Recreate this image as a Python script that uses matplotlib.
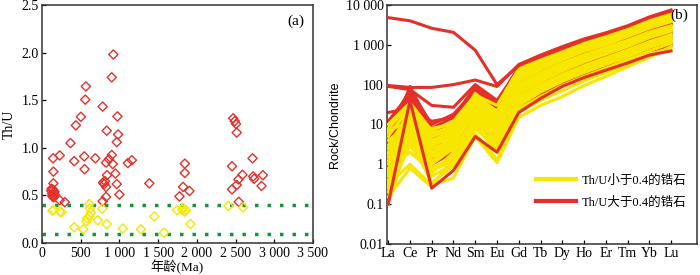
import matplotlib.pyplot as plt
import numpy as np

plt.rcParams["font.family"] = ["Liberation Serif", "Noto Sans CJK SC"]
plt.rcParams["font.size"] = 10

# ---------- (a) Th/U vs age ----------
red_age = [922, 901, 567, 559, 784, 974, 502, 437, 836, 2470, 2490, 2507, 2516,
           983, 966, 368, 143, 229, 546, 689, 416, 550, 901, 866, 827, 914, 948,
           840, 966, 1000, 1109, 1161, 1386, 788, 805, 827, 815, 827, 784, 147, 147,
           120, 130, 140, 150, 160, 125, 135, 155, 145, 165, 229, 294,
           1845, 1845, 1823, 1905, 1776, 2455, 2455, 2516, 2538, 2590, 2542,
           2720, 2728, 2741, 2854, 2836]
red_thu = [1.98, 1.74, 1.645, 1.506, 1.433, 1.33, 1.326, 1.236, 1.18, 1.31, 1.28, 1.25, 1.16,
           1.14, 1.06, 1.05, 0.89, 0.92, 0.91, 0.89, 0.86, 0.776, 0.925, 0.88, 0.845, 0.83, 0.73,
           0.713, 0.62, 0.51, 0.84, 0.87, 0.627, 0.634, 0.62, 0.59, 0.65, 0.485, 0.44, 0.75, 0.627,
           0.55, 0.52, 0.50, 0.48, 0.54, 0.57, 0.49, 0.53, 0.56, 0.51, 0.45, 0.43,
           0.834, 0.737, 0.59, 0.547, 0.49, 0.807, 0.564, 0.61, 0.668, 0.717, 0.433,
           0.89, 0.70, 0.675, 0.713, 0.60]

yel_age = [134, 150, 230, 251, 610, 619, 632, 610, 584, 576, 779, 719, 416, 533,
           836, 1044, 1278, 1451, 1576, 1745, 1810, 1840, 1862, 1823, 1918, 2408, 2598]
yel_thu = [0.34, 0.35, 0.33, 0.325, 0.41, 0.364, 0.32, 0.284, 0.26, 0.23, 0.36, 0.24, 0.166, 0.145,
           0.2, 0.152, 0.145, 0.28, 0.11, 0.346, 0.35, 0.33, 0.345, 0.37, 0.2, 0.39, 0.374]

thu_limits = [0.4, 0.1]

# ---------- (b) chondrite-normalised REE ----------
ree = ["La", "Ce", "Pr", "Nd", "Sm", "Eu", "Gd", "Tb", "Dy", "Ho", "Er", "Tm", "Yb", "Lu"]

red_ree = [
    [4800, 4000, 2600, 2050, 730, 100, 300, 500, 800, 1300, 1900, 2900, 4800, 7000],
    [95, 85, 85, 100, 130, 90, 320, 550, 900, 1400, 2000, 3000, 5000, 7500],
    [90, 75, 30, 27, 100, 40, 250, 450, 750, 1200, 1700, 2600, 4200, 6000],
    [20, 25, 12, 15, 60, 20, 150, 280, 500, 800, 1200, 1900, 3200, 4500],
    [12, 60, 6, 10, 50, 15, 120, 230, 400, 650, 1000, 1500, 2500, 3500],
    [2.7, 80, 4, 12, 80, 30, 200, 380, 650, 1000, 1500, 2300, 3800, 5200],
    [1.2, 50, 2, 5, 30, 10, 50, 100, 180, 300, 480, 750, 1200, 1700],
    [0.4, 30, 1.0, 2, 8, 5, 30, 60, 110, 190, 300, 480, 800, 1100],
    [0.1, 40, 0.25, 0.7, 5, 2, 20, 45, 90, 150, 230, 350, 550, 700],
    [0.8, 70, 3, 7, 60, 25, 170, 320, 560, 900, 1300, 2000, 3300, 4500],
    [5, 45, 5, 9, 40, 12, 80, 150, 260, 420, 650, 1000, 1600, 2300],
    [0.6, 35, 1.5, 3, 20, 8, 60, 120, 220, 360, 560, 850, 1400, 2000],
    [3, 90, 8, 15, 90, 35, 280, 500, 820, 1250, 1800, 2700, 4500, 6500],
    [1.5, 65, 2.5, 6, 40, 12, 40, 80, 150, 260, 420, 670, 1100, 1500],
    [0.5, 55, 1.2, 4, 25, 9, 25, 50, 100, 170, 270, 430, 700, 950],
    [8, 75, 10, 18, 70, 25, 110, 210, 380, 620, 950, 1450, 2400, 3400],
]

yel_ree = [
    [7, 12, 8, 10, 40, 15, 200, 380, 650, 1000, 1500, 2300, 3800, 5500],
    [8, 30, 5, 8, 60, 20, 230, 420, 700, 1100, 1600, 2500, 4000, 6000],
    [1.5, 25, 4, 6, 30, 10, 150, 290, 500, 800, 1200, 1800, 3000, 4300],
    [0.5, 10, 1.2, 3, 20, 8, 100, 200, 350, 560, 850, 1300, 2100, 3000],
    [0.3, 1.0, 0.3, 0.45, 5, 1.1, 15, 30, 50, 95, 160, 280, 480, 900],
    [0.15, 0.8, 0.27, 1.5, 10, 3, 25, 50, 95, 160, 260, 420, 700, 1100],
    [0.1, 5, 0.6, 2, 15, 4, 40, 80, 140, 240, 380, 600, 1000, 1500],
    [3, 20, 3, 5, 25, 7, 60, 120, 220, 370, 580, 900, 1500, 2200],
    [1, 15, 2, 4, 35, 12, 120, 240, 420, 680, 1000, 1600, 2600, 3800],
    [0.7, 8, 1, 2.5, 12, 5, 80, 160, 280, 460, 700, 1100, 1800, 2600],
    [10, 35, 7, 12, 55, 30, 250, 450, 760, 1200, 1750, 2700, 4300, 6000],
    [0.2, 3, 0.5, 1, 8, 2.5, 30, 65, 120, 200, 320, 500, 850, 1300],
    [2, 18, 2.5, 4, 18, 6, 180, 340, 580, 900, 1350, 2000, 3300, 4800],
    [0.4, 6, 0.8, 1.5, 12, 4, 130, 260, 450, 720, 1100, 1700, 2800, 4000],
    [5, 28, 6, 9, 45, 18, 45, 90, 160, 270, 430, 680, 1100, 1600],
    [0.25, 12, 1.8, 3.5, 25, 9, 200, 370, 630, 980, 1450, 2200, 3600, 5000],
    [1.2, 28, 3, 5, 40, 10, 170, 330, 560, 880, 1300, 2000, 3200, 4600],
    [6, 22, 4, 7, 35, 14, 90, 180, 320, 520, 800, 1250, 2000, 2900],
    [0.35, 4, 0.35, 0.9, 6, 1.3, 20, 40, 70, 125, 200, 330, 560, 850],
    [2.5, 15, 1.5, 3, 28, 8, 70, 140, 250, 410, 640, 1000, 1650, 2400],
    [0.6, 20, 2, 5, 45, 16, 220, 400, 680, 1050, 1550, 2400, 3900, 5400],
    [4, 10, 3.5, 6, 22, 3.5, 50, 100, 180, 300, 470, 740, 1200, 1800],
    [1.8, 26, 5, 8, 50, 22, 140, 270, 470, 750, 1130, 1750, 2800, 4100],
    [0.8, 2, 0.7, 1.2, 9, 2, 35, 70, 130, 220, 350, 550, 900, 1400],
]

RED = "#e3302a"
YEL = "#f7e600"
GREEN = "#13963b"

fig = plt.figure(figsize=(7, 2.75), dpi=100)
ax1 = fig.add_axes([0.06, 0.116, 0.387, 0.866])
ax2 = fig.add_axes([0.553, 0.113, 0.443, 0.869])

for ax in (ax1, ax2):
    for s in ax.spines.values():
        s.set_linewidth(1.1)
        s.set_color("#333333")
    ax.tick_params(direction="in", length=3, width=0.9, labelsize=10, pad=2.5)

# (a)
ax1.scatter(red_age, red_thu, marker="D", s=22, facecolors="none", edgecolors=RED, linewidths=1.0, zorder=3)
ax1.scatter(yel_age, yel_thu, marker="D", s=22, facecolors="none", edgecolors=YEL, linewidths=1.0, zorder=3)
for v in thu_limits:
    ax1.axhline(v, color=GREEN, lw=2.5, ls=(0, (1, 2.6)), zorder=2)
ax1.set_xlim(0, 3500)
ax1.set_ylim(0, 2.5)
ax1.set_xticks(np.arange(0, 3501, 500))
ax1.set_xticklabels(["0", "500", "1 000", "1 500", "2 000", "2 500", "3 000", "3 500"])
ax1.set_yticks(np.arange(0, 2.51, 0.5))
ax1.set_yticklabels(["0.0", "0.5", "1.0", "1.5", "2.0", "2.5"])
ax1.set_xlabel("年龄(Ma)", labelpad=0, fontsize=9.5)
ax1.set_ylabel("Th/U", labelpad=4)
ax1.text(0.97, 0.93, "(a)", transform=ax1.transAxes, ha="right", va="center", fontsize=11)

# (b)
x = np.arange(len(ree))
for i, row in enumerate(red_ree):
    ax2.plot(x, row, color=RED, lw=2.2, zorder=2 if i not in (0, 1, 8) else 4)
for row in yel_ree:
    ax2.plot(x, row, color=YEL, lw=2.2, zorder=3)
ax2.set_yscale("log")
ax2.set_ylim(0.01, 10000)
ax2.set_xlim(-0.05, 14.2)
ax2.set_xticks(x)
ax2.set_xticklabels(ree)
ax2.set_yticks([0.01, 0.1, 1, 10, 100, 1000, 10000])
ax2.set_yticklabels(["0.01", "0.1", "1", "10", "100", "1 000", "10 000"])
ax2.minorticks_off()
ax2.set_ylabel("Rock/Chondrite", family=["Liberation Sans"], fontsize=9, labelpad=3)
ax2.text(0.97, 0.955, "(b)", transform=ax2.transAxes, ha="right", va="center", fontsize=11)

ax2.plot([], [], color=YEL, lw=3, label="Th/U小于0.4的锆石")
ax2.plot([], [], color=RED, lw=3, label="Th/U大于0.4的锆石")
ax2.legend(loc="lower right", bbox_to_anchor=(1.0, 0.1), frameon=False, fontsize=9,
           handlelength=3.2, handletextpad=0.4, labelspacing=0.8)

fig.savefig("out.png", dpi=100)
